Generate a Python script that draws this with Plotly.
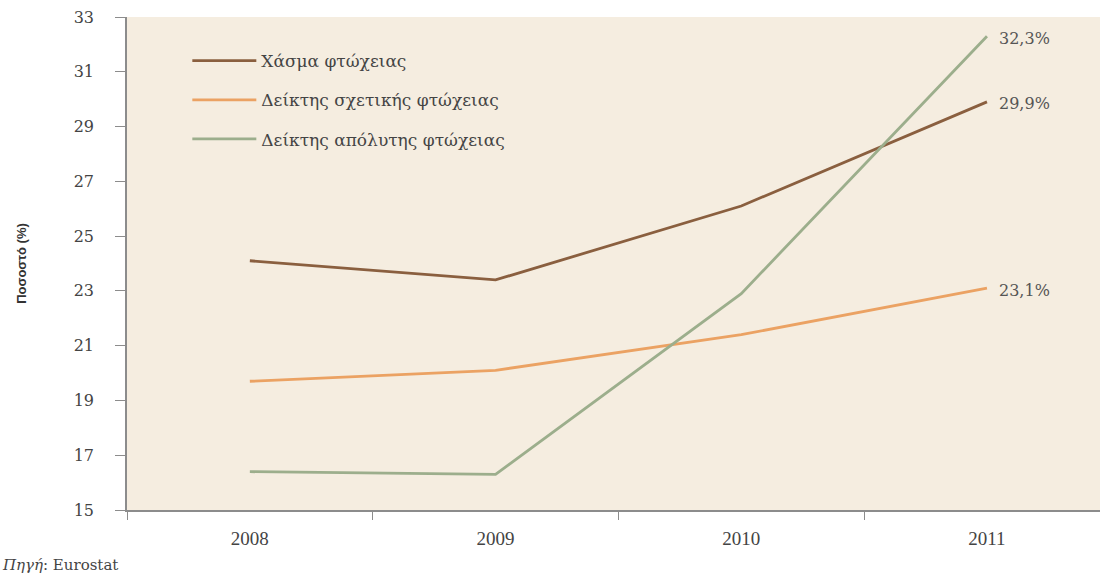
import plotly.graph_objects as go

years = ["2008", "2009", "2010", "2011"]
gap = [24.1, 23.4, 26.1, 29.9]
relative = [19.7, 20.1, 21.4, 23.1]
absolute = [16.4, 16.3, 22.9, 32.3]
names = ["Χάσμα φτώχειας", "Δείκτης σχετικής φτώχειας", "Δείκτης απόλυτης φτώχειας"]
end_labels = ["29,9%", "23,1%", "32,3%"]
colors = ["#8a5f3f", "#eba263", "#9cae8c"]

fig = go.Figure()
for i, (name, vals) in enumerate(zip(names, [gap, relative, absolute])):
    fig.add_trace(go.Scatter(
        x=years, y=vals, mode="lines", name=name,
        line=dict(color=colors[i], width=2.8),
        legendgroup=f"g{i}",
    ))
    fig.add_annotation(x=len(years) - 1, y=vals[-1], text=end_labels[i],
                       xanchor="left", yanchor="middle", xshift=10, yshift=-2,
                       showarrow=False,
                       font=dict(family="DejaVu Serif", size=16, color="#555555"))

fig.add_annotation(xref="paper", yref="paper", x=0, y=0, xshift=-127, yshift=-55,
                   xanchor="left", yanchor="middle", showarrow=False,
                   text="<i>Πηγή</i>: Eurostat",
                   font=dict(family="DejaVu Serif", size=15, color="#444444"))

fig.update_layout(
    width=1103, height=575,
    margin=dict(l=127, r=3, t=17, b=65),
    paper_bgcolor="white",
    plot_bgcolor="#f5ede0",
    showlegend=True,
    legend=dict(x=0.062, y=0.947, xanchor="left", yanchor="top",
                bgcolor="rgba(0,0,0,0)", traceorder="grouped",
                tracegroupgap=14, itemwidth=64,
                font=dict(family="DejaVu Serif", size=17, color="#444444")),
    xaxis=dict(type="category", range=[-0.5, 3.46], showline=True,
               linecolor="#8c8c8c", linewidth=1.5, ticks="outside",
               tickson="boundaries", ticklen=8, tickcolor="#8c8c8c",
               showgrid=False, zeroline=False, ticklabelstandoff=10,
               tickfont=dict(family="Liberation Serif", size=19, color="#444444")),
    yaxis=dict(range=[15, 33], dtick=2, tick0=15, showline=True,
               linecolor="#8c8c8c", linewidth=1.5, ticks="outside",
               ticklen=10, tickcolor="#8c8c8c", showgrid=False, zeroline=False,
               ticklabelstandoff=18,
               tickfont=dict(family="DejaVu Serif", size=16, color="#444444"),
               title=dict(text="<b>Ποσοστό (%)</b>", standoff=44,
                          font=dict(family="Liberation Sans Narrow, Liberation Sans", size=13, color="#333333"))),
)

fig.write_html("out.html", config={"displayModeBar": False},
               post_script="document.body.style.margin='0';")
